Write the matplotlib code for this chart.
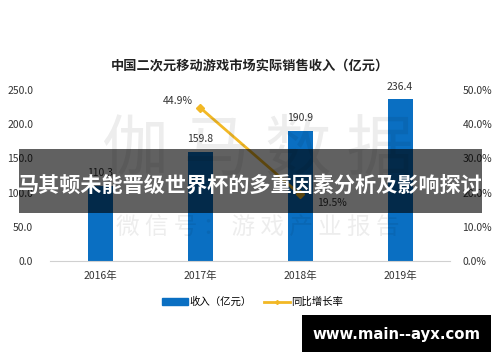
import matplotlib
matplotlib.use("Agg")
import matplotlib.pyplot as plt
import numpy as np
from matplotlib.patches import Rectangle
from matplotlib.lines import Line2D
from matplotlib.patches import Patch

plt.rcParams['font.family'] = ['Noto Sans CJK SC', 'DejaVu Sans']

years = ["2016年", "2017年", "2018年", "2019年"]
revenue = [110.3, 159.8, 190.9, 236.4]
growth = [np.nan, 44.9, 19.5, np.nan]
left_ticks = [0, 50, 100, 150, 200, 250]
right_ticks = [0, 10, 20, 30, 40, 50]
title = "中国二次元移动游戏市场实际销售收入（亿元）"
banner = "马其顿未能晋级世界杯的多重因素分析及影响探讨"
site = "www.main--ayx.com"

BLUE = "#0A6FC2"
GOLD = "#F2B825"

fig = plt.figure(figsize=(5, 3.62), dpi=100)
ax = fig.add_axes([0.1, 0.279, 0.8, 0.472])
x = np.arange(len(years))

# watermark
fig.text(0.515, 0.585, "伽 马 数 据", ha="center", va="center", fontsize=48,
         color="#000000", alpha=0.07, zorder=0)
fig.text(0.515, 0.373, "微 信 号 ： 游 戏 产 业 报 告", ha="center", va="center", fontsize=17,
         color="#000000", alpha=0.07, zorder=0)

bars = ax.bar(x, revenue, width=0.25, color=BLUE, zorder=2)
for xi, v in zip(x, revenue):
    ax.text(xi, v + 11, f"{v:.1f}", ha="center", va="bottom", fontsize=7.5,
            color="#333333", clip_on=False)

ax.set_xlim(-0.5, 3.5)
ax.set_ylim(0, 250)
ax.set_yticks(left_ticks)
ax.set_yticklabels([f"{t:.1f}" for t in left_ticks])
ax.set_xticks(x)
ax.set_xticklabels(years)
for s in ["top", "right", "left"]:
    ax.spines[s].set_visible(False)
ax.spines["bottom"].set_color("#d0d0d0")
ax.tick_params(axis="both", length=0, labelsize=7.5, colors="#333333")
ax.tick_params(axis="y", pad=12)
ax.tick_params(axis="x", pad=7)
ax.patch.set_alpha(0)

ax2 = ax.twinx()
ax2.set_ylim(0, 50)
ax2.set_yticks(right_ticks)
ax2.set_yticklabels([f"{t:.1f}%" for t in right_ticks])
for s in ["top", "right", "left", "bottom"]:
    ax2.spines[s].set_visible(False)
ax2.tick_params(axis="y", length=0, labelsize=7.5, colors="#333333", pad=9)
ax2.plot(x, growth, color=GOLD, lw=2, marker="D", ms=4, zorder=3)
ax2.text(1 - 0.07, 44.9 + 1.8, "44.9%", ha="right", va="center", fontsize=7.5, color="#333333")
ax2.text(2 + 0.17, 19.5 - 1.2, "19.5%", ha="left", va="top", fontsize=7.5, color="#333333")

fig.text(0.5, 0.82, title, ha="center", va="center", fontsize=9.5,
         fontweight="bold", color="#222222")

handles = [Patch(color=BLUE), Line2D([0], [0], color=GOLD, lw=2, marker="D", ms=2)]
fig.legend(handles, ["收入（亿元）", "同比增长率"], loc="center", bbox_to_anchor=(0.505, 0.166),
           ncol=2, frameon=False, fontsize=7.5, handlelength=2.5, handleheight=0.6,
           columnspacing=1.2, handletextpad=0.1)

# banner
fig.patches.append(Rectangle((19 / 500, 1 - 213 / 362), 463 / 500, 64 / 362,
                             transform=fig.transFigure, facecolor="#000000", alpha=0.62,
                             zorder=5))
fig.text(0.5, 1 - 185 / 362, banner, ha="center", va="center", fontsize=15.2,
         fontweight="bold", color="white", zorder=6)

# site box
fig.patches.append(Rectangle((302 / 500, 1 - 352 / 362), 189 / 500, 37 / 362,
                             transform=fig.transFigure, facecolor="black", zorder=5))
fig.text(396 / 500, 1 - 334 / 362, site, ha="center", va="center", fontsize=10.7,
         fontweight="bold", color="white", family="DejaVu Sans", zorder=6)

fig.savefig("out.png", dpi=100)
